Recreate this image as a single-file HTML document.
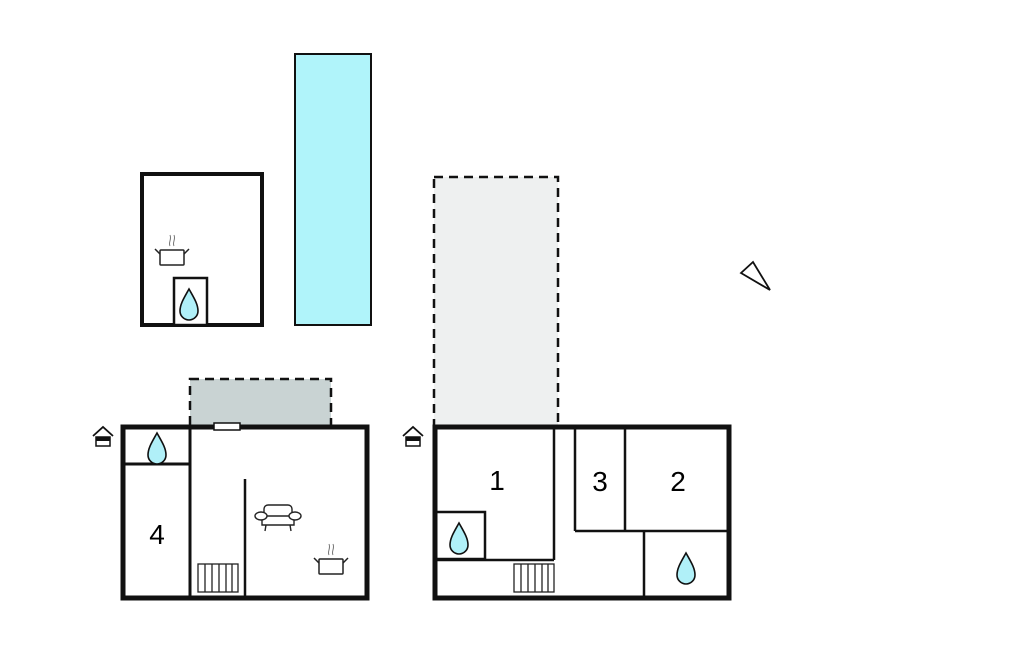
<!DOCTYPE html>
<html><head><meta charset="utf-8"><style>html,body{margin:0;padding:0;background:#fff}svg{display:block}text{font-family:"Liberation Sans",sans-serif}</style></head>
<body>
<svg width="1024" height="652" viewBox="0 0 1024 652" xmlns="http://www.w3.org/2000/svg">
<defs>
<g id="drop"><path d="M0,-16 C5,-7 9,-1 9,6 A9,9 0 0 1 -9,6 C-9,-1 -5,-7 0,-16 Z" fill="#b0f0f8" stroke="#111" stroke-width="1.6"/></g>
<g id="pot" fill="none" stroke="#222" stroke-width="1.5"><rect x="-12" y="-7" width="24" height="15" rx="1" fill="#fff"/><path d="M-12,-3 L-17,-8 M12,-3 L17,-8"/><path d="M-2,-11 c-2,-4 2,-6 0,-11 M2,-11 c-2,-4 2,-6 0,-11" stroke="#777" stroke-width="1"/></g>
<g id="home"><path d="M-10,0 L0,-9 L10,0" fill="none" stroke="#111" stroke-width="1.8"/><rect x="-7" y="1" width="14" height="9" fill="#fff" stroke="#111" stroke-width="1.5"/><rect x="-7" y="1" width="14" height="4" fill="#111"/></g>
<g id="stairs" fill="#fff" stroke="#222" stroke-width="1.3"><rect x="0" y="0" width="40" height="28"/><path d="M7,0V28M14,0V28M21,0V28M28,0V28M34,0V28"/></g>
</defs>
<rect x="142" y="174" width="120" height="151" fill="#fff" stroke="#111" stroke-width="4"/>
<rect x="174" y="278" width="33" height="47" fill="#fff" stroke="#111" stroke-width="2.5"/>
<use href="#drop" x="189" y="305"/>
<use href="#pot" x="172" y="257"/>
<rect x="295" y="54" width="76" height="271" fill="#b0f4fa" stroke="#111" stroke-width="2"/>
<rect x="190" y="379" width="141" height="47" fill="#c9d3d3" stroke="#111" stroke-width="2.5" stroke-dasharray="9,6"/>
<rect x="434" y="177" width="124" height="249" fill="#eef0f0" stroke="#111" stroke-width="2.5" stroke-dasharray="9,6"/>
<rect x="123" y="427" width="244" height="171" fill="#fff" stroke="#111" stroke-width="5"/>
<path d="M190,427V598 M123,464H190" stroke="#111" stroke-width="3"/>
<path d="M245,479V598" stroke="#111" stroke-width="2.5"/>
<rect x="214" y="423" width="26" height="7" fill="#fff" stroke="#111" stroke-width="1.5"/>
<use href="#stairs" x="198" y="564"/>
<use href="#drop" x="157" y="449"/>
<text x="157" y="544" font-size="28" text-anchor="middle">4</text>
<g fill="#fff" stroke="#222" stroke-width="1.4"><path d="M262,516 V525 H294 V516 M266,525 l-1,6 M290,525 l1,6"/><rect x="264" y="505" width="28" height="11" rx="4"/><ellipse cx="261" cy="516" rx="6" ry="4"/><ellipse cx="295" cy="516" rx="6" ry="4"/></g>
<use href="#pot" x="331" y="566"/>
<use href="#home" x="103" y="436"/>
<rect x="435" y="427" width="294" height="171" fill="#fff" stroke="#111" stroke-width="5"/>
<path d="M554,427V560 M435,560H554 M575,427V531 M575,531H729 M625,427V531 M644,531V598" stroke="#111" stroke-width="2.5"/>
<rect x="436" y="512" width="49" height="47" fill="none" stroke="#111" stroke-width="2.5"/>
<use href="#stairs" x="514" y="564"/>
<use href="#drop" x="459" y="539"/>
<use href="#drop" x="686" y="569"/>
<text x="497" y="490" font-size="28" text-anchor="middle">1</text>
<text x="600" y="491" font-size="28" text-anchor="middle">3</text>
<text x="678" y="491" font-size="28" text-anchor="middle">2</text>
<use href="#home" x="413" y="436"/>
<polygon points="741,273 753,262 770,290" fill="#fff" stroke="#111" stroke-width="1.8"/>
</svg>
</body></html>
